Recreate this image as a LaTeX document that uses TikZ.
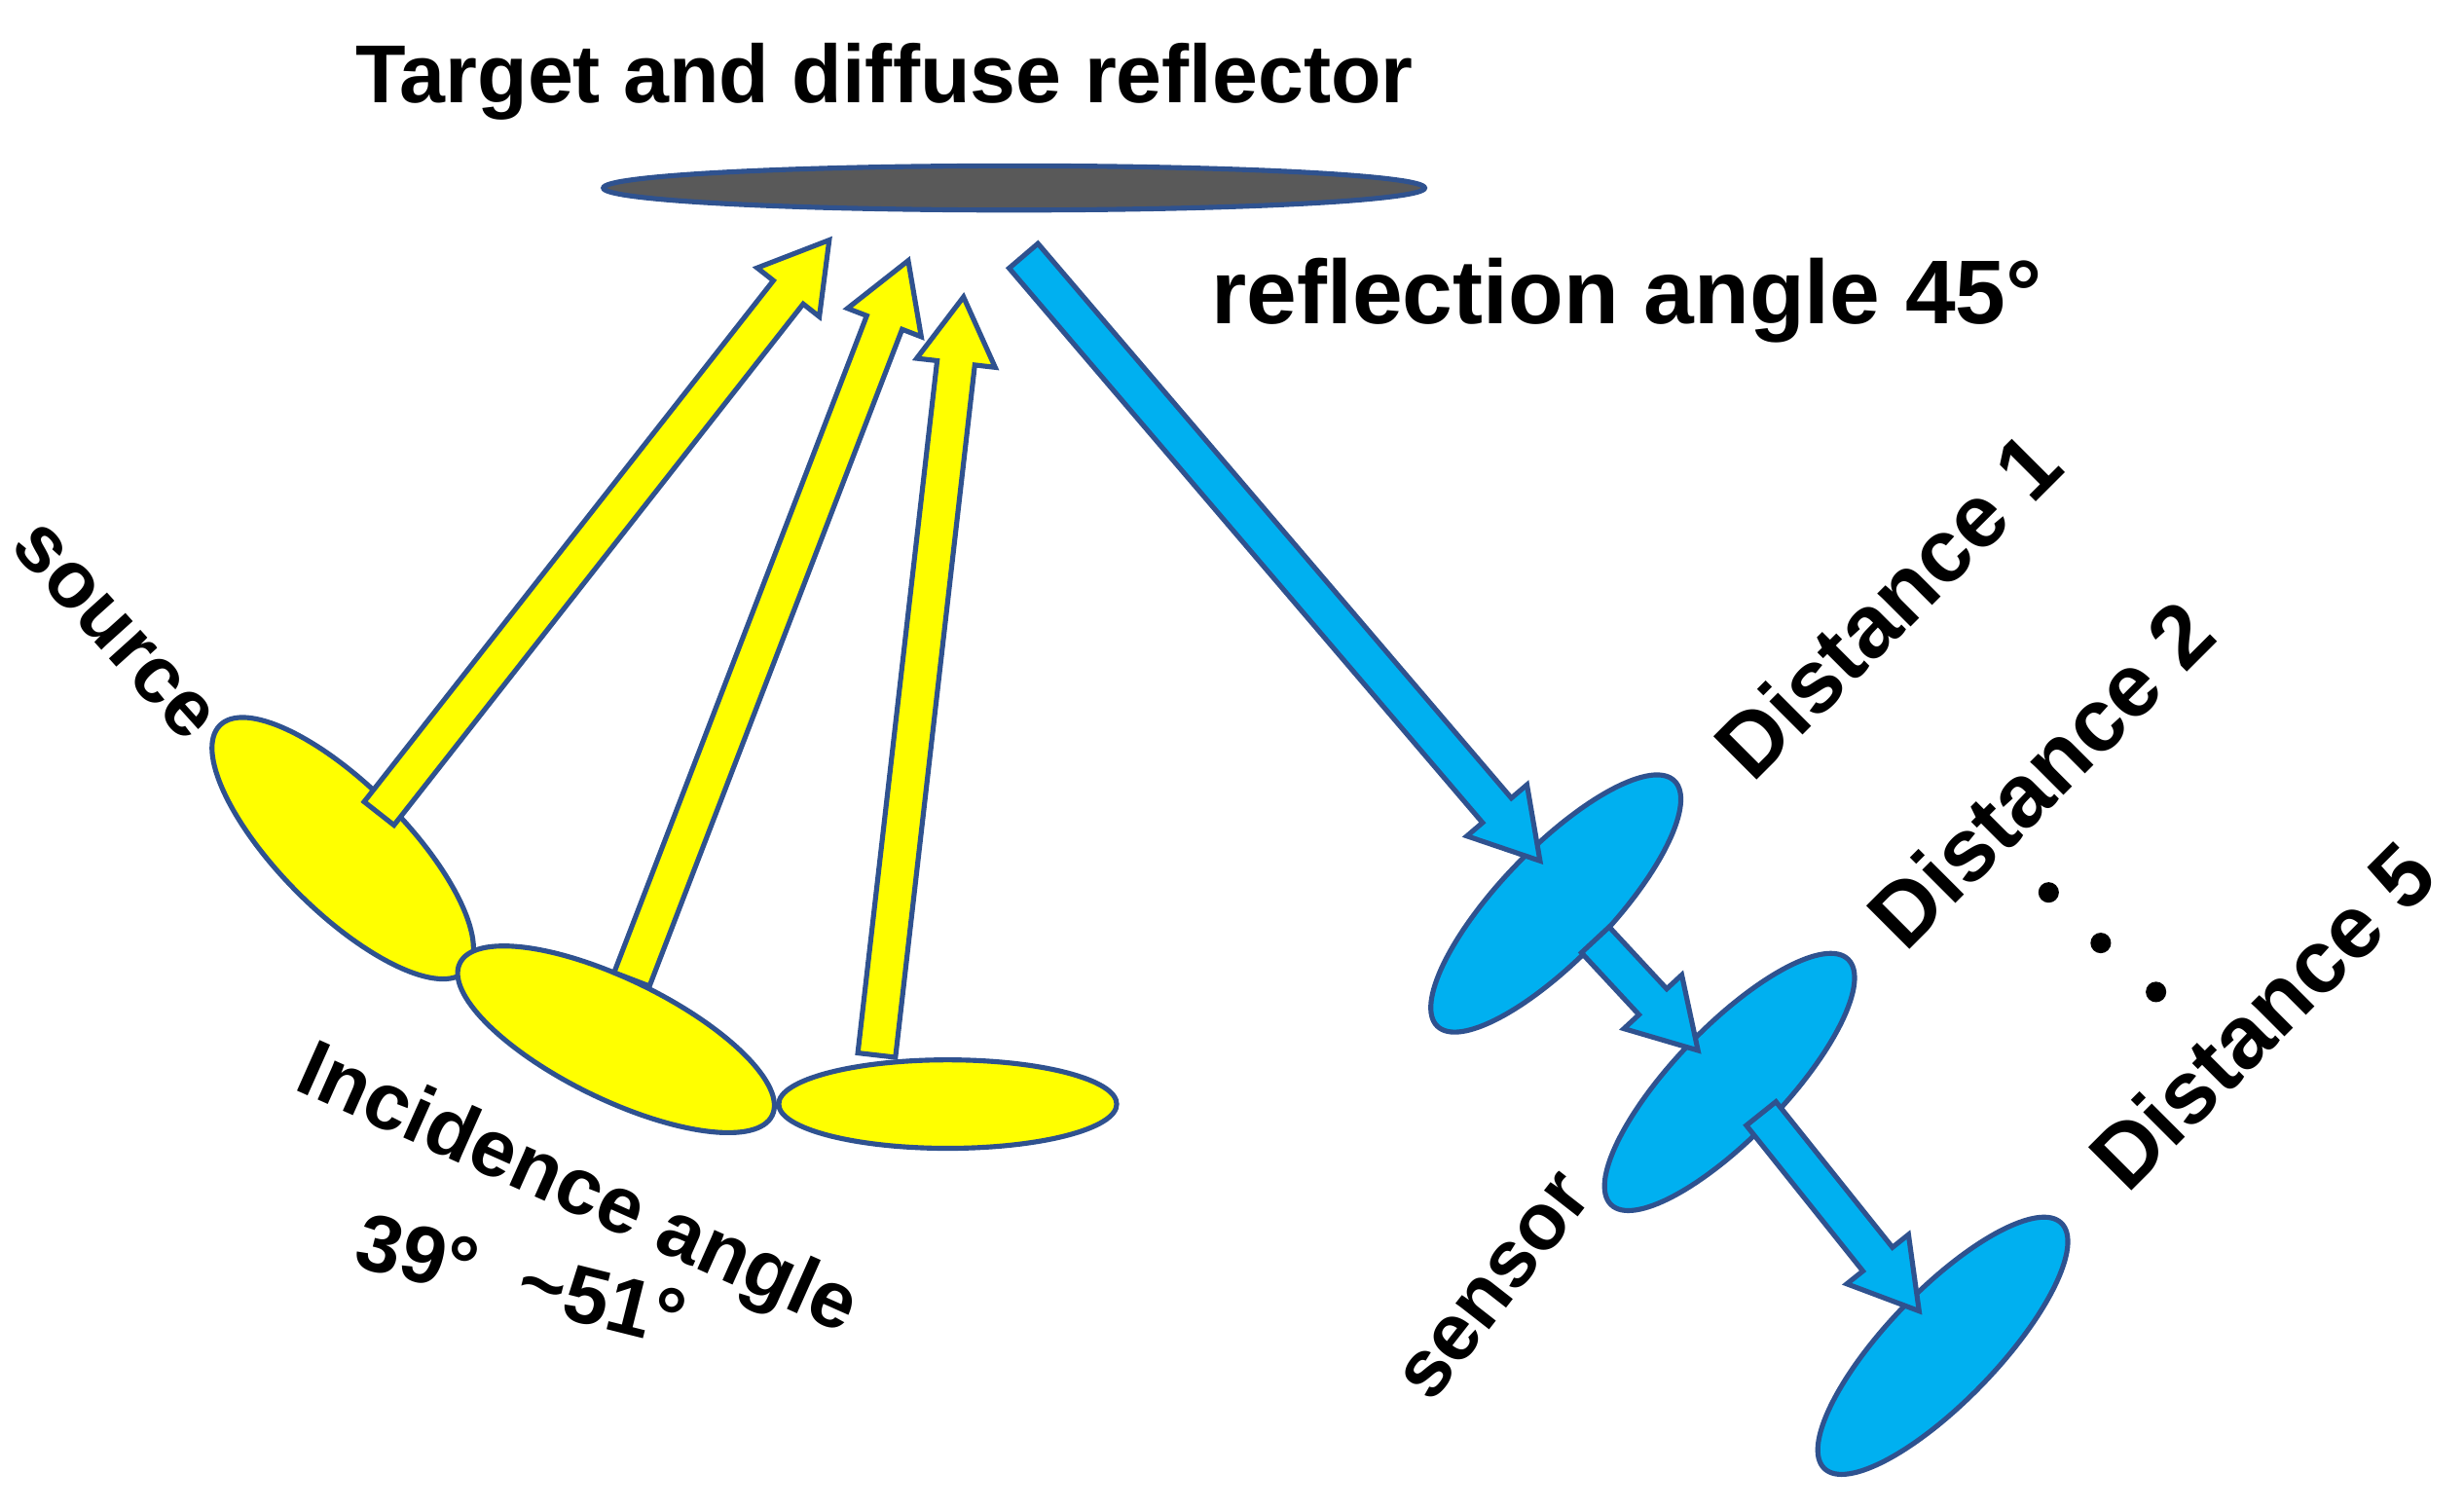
\documentclass[tikz,border=0pt]{standalone}
\usepackage{fontspec}
\setmainfont{Liberation Sans}
\usetikzlibrary{shapes.geometric,calc}
\definecolor{yel}{RGB}{255,255,0}
\definecolor{sky}{RGB}{0,176,240}
\definecolor{edge}{RGB}{47,82,143}
\definecolor{dark}{RGB}{89,89,89}
\newcommand\fatarrow[3]{% fill colour, start, end
  \fill[#1,draw=edge,line width=0.9pt,line join=miter]
    ($(#2)!0.12cm!90:(#3)$) --
    ($($(#3)!0.42cm!(#2)$)!0.12cm!90:(#3)$) --
    ($($(#3)!0.42cm!(#2)$)!0.25cm!90:(#3)$) -- (#3) --
    ($($(#3)!0.42cm!(#2)$)!0.25cm!-90:(#3)$) --
    ($($(#3)!0.42cm!(#2)$)!0.12cm!-90:(#3)$) --
    ($(#2)!0.12cm!-90:(#3)$) -- cycle;}
\begin{document}
\begin{tikzpicture}[
  ell/.style={ellipse,draw=edge,line width=0.9pt,inner sep=0pt},
  lbl/.style={font=\fontsize{14.5}{16}\selectfont\bfseries,inner sep=0pt},
  dist/.style={font=\fontsize{16}{18}\selectfont\bfseries,inner sep=0pt,rotate=45}]
\useasboundingbox (0,0) rectangle (15.6,9.55);
\node[lbl,font=\fontsize{14.8}{16}\selectfont\bfseries] (title) at (5.6,9.03) {Target and diffuse reflector};
\node[ell,fill=dark,minimum width=5.2cm,minimum height=0.28cm] (refl) at (6.42,8.36) {};
\node[lbl,font=\fontsize{16.3}{18}\selectfont\bfseries] (ra) at (10.3,7.65) {reflection angle 45°};
\node[ell,fill=yel,minimum width=2.2cm,minimum height=0.8cm,rotate=-45] (y1) at (2.17,4.18) {};
\node[ell,fill=yel,minimum width=2.2cm,minimum height=0.76cm,rotate=-26] (y2) at (3.90,2.97) {};
\node[ell,fill=yel,minimum width=2.14cm,minimum height=0.56cm] (y3) at (6.00,2.56) {};
\node[ell,fill=sky,minimum width=2.16cm,minimum height=0.7cm,rotate=46] (b1) at (9.85,3.83) {};
\node[ell,fill=sky,minimum width=2.16cm,minimum height=0.7cm,rotate=46] (b2) at (10.95,2.70) {};
\node[ell,fill=sky,minimum width=2.16cm,minimum height=0.7cm,rotate=46] (b3) at (12.30,1.03) {};
\coordinate (ya1) at (2.40,4.40); \coordinate (yb1) at (5.25,8.03);
\coordinate (ya2) at (4.00,3.35); \coordinate (yb2) at (5.75,7.90);
\coordinate (ya3) at (5.55,2.87); \coordinate (yb3) at (6.10,7.67);
\coordinate (ba1) at (6.48,7.93); \coordinate (bb1) at (9.75,4.10);
\coordinate (ba2) at (10.10,3.60); \coordinate (bb2) at (10.75,2.90);
\coordinate (ba3) at (11.15,2.50); \coordinate (bb3) at (12.15,1.25);
\fatarrow{yel}{ya1}{yb1}
\fatarrow{yel}{ya2}{yb2}
\fatarrow{yel}{ya3}{yb3}
\fatarrow{sky}{ba1}{bb1}
\fatarrow{sky}{ba2}{bb2}
\fatarrow{sky}{ba3}{bb3}
\node[lbl,rotate=-48] (src) at (0.72,5.55) {source};
\node[lbl,rotate=-24] (inc) at (3.65,2.0) {Incidence angle};
\node[lbl,rotate=-14] (deg) at (3.30,1.45) {39°\ \ \textasciitilde51°};
\node[lbl,rotate=52] (sen) at (9.47,1.40) {sensor};
\node[dist] (d1) at (11.95,5.72) {Distance 1};
\node[dist] (d2) at (12.92,4.65) {Distance 2};
\node[dist] (d5) at (14.32,3.12) {Distance 5};
\fill (12.97,3.90) circle (0.065) (13.30,3.58) circle (0.065) (13.65,3.27) circle (0.065);
\end{tikzpicture}
\end{document}
